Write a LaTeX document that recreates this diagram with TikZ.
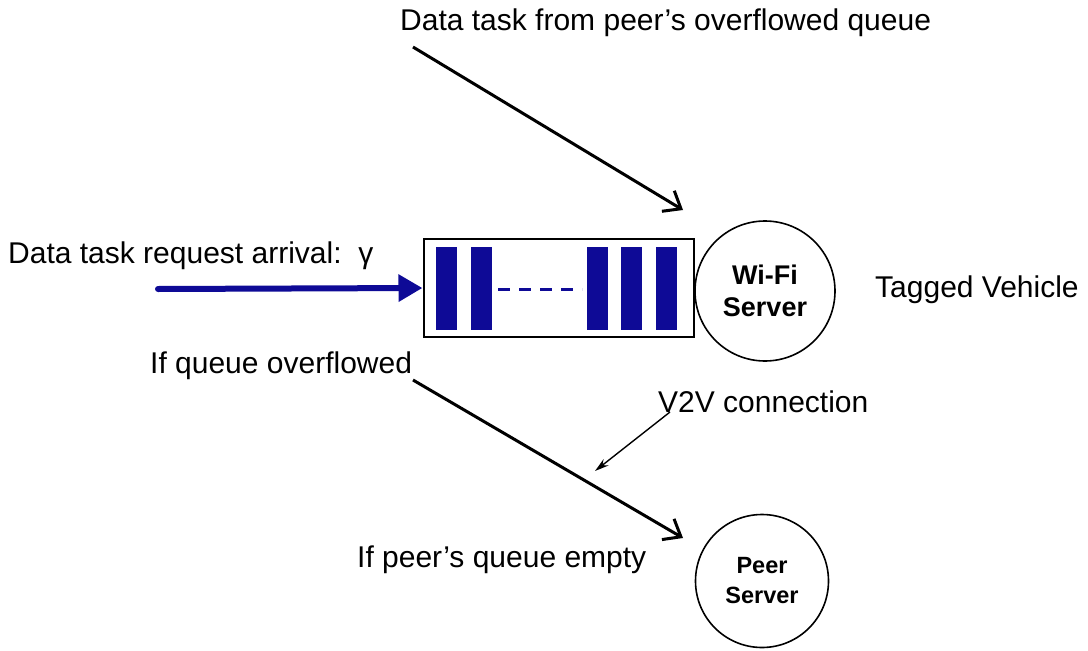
\documentclass[tikz,border=0pt]{standalone}
\usepackage{fontspec}
\setmainfont{Liberation Sans}
\usetikzlibrary{arrows.meta}
\definecolor{qblue}{RGB}{14,10,150}
\tikzset{
  lbl/.style={anchor=base west, inner sep=0pt, font=\fontsize{30}{36}\selectfont},
  server/.style={circle, draw, line width=1.6pt, fill=white, align=center, inner sep=0pt},
  flow/.style={line width=3pt, -{Straight Barb[length=15pt,width=24pt,line width=3pt]}},
  slot/.style={fill=qblue, draw=none},
}
\begin{document}
\begin{tikzpicture}[x=1pt,y=-1pt]
\useasboundingbox (0,0) rectangle (1088,651);

% servers
\node[server, minimum size=140pt, font=\bfseries\fontsize{27}{32}\selectfont] (wifi) at (765,291) {Wi-Fi\\Server};
\node[server, minimum size=133pt, font=\bfseries\fontsize{23.5}{30}\selectfont] (peer) at (762,581) {Peer\\Server};

% queue buffer
\node[draw, line width=2pt, fill=white, minimum width=270pt, minimum height=98pt, inner sep=0pt] (queue) at (558.5,288) {};
\foreach \x in {436,471,587,621,656} {
  \fill[slot] (\x,247) rectangle ++(21,83);
}
\draw[qblue, line width=3pt, dash pattern=on 12pt off 9pt] (498,289) -- (582,289);

% labels
\node[lbl] (ltop) at (400,30) {Data task from peer’s overflowed queue};
\node[lbl] (larr) at (8,263) {Data task request arrival:\ \ γ};
\node[lbl] (ltag) at (875,297) {Tagged Vehicle};
\node[lbl] (lovf) at (150,373) {If queue overflowed};
\node[lbl] (lv2v) at (658,412) {V2V connection};
\node[lbl] (lemp) at (357,567) {If peer’s queue empty};

% connectors
\coordinate (arrS) at (158,289);
\draw[qblue, line width=6pt, line cap=round, -{Triangle[length=24pt,width=26pt]}] (arrS) -- (queue.west);

\coordinate (inS) at (413,47);
\coordinate (inE) at (683,210);
\draw[flow] (inS) -- (inE);

\coordinate (outS) at (413,380);
\coordinate (outE) at (683,538);
\draw[flow] (outS) -- (outE);

\coordinate (v2vS) at (670,412);
\coordinate (v2vE) at (595,471);
\draw[line width=1.4pt, -{Stealth[length=14pt,width=8pt]}] (v2vS) -- (v2vE);
\end{tikzpicture}
\end{document}
